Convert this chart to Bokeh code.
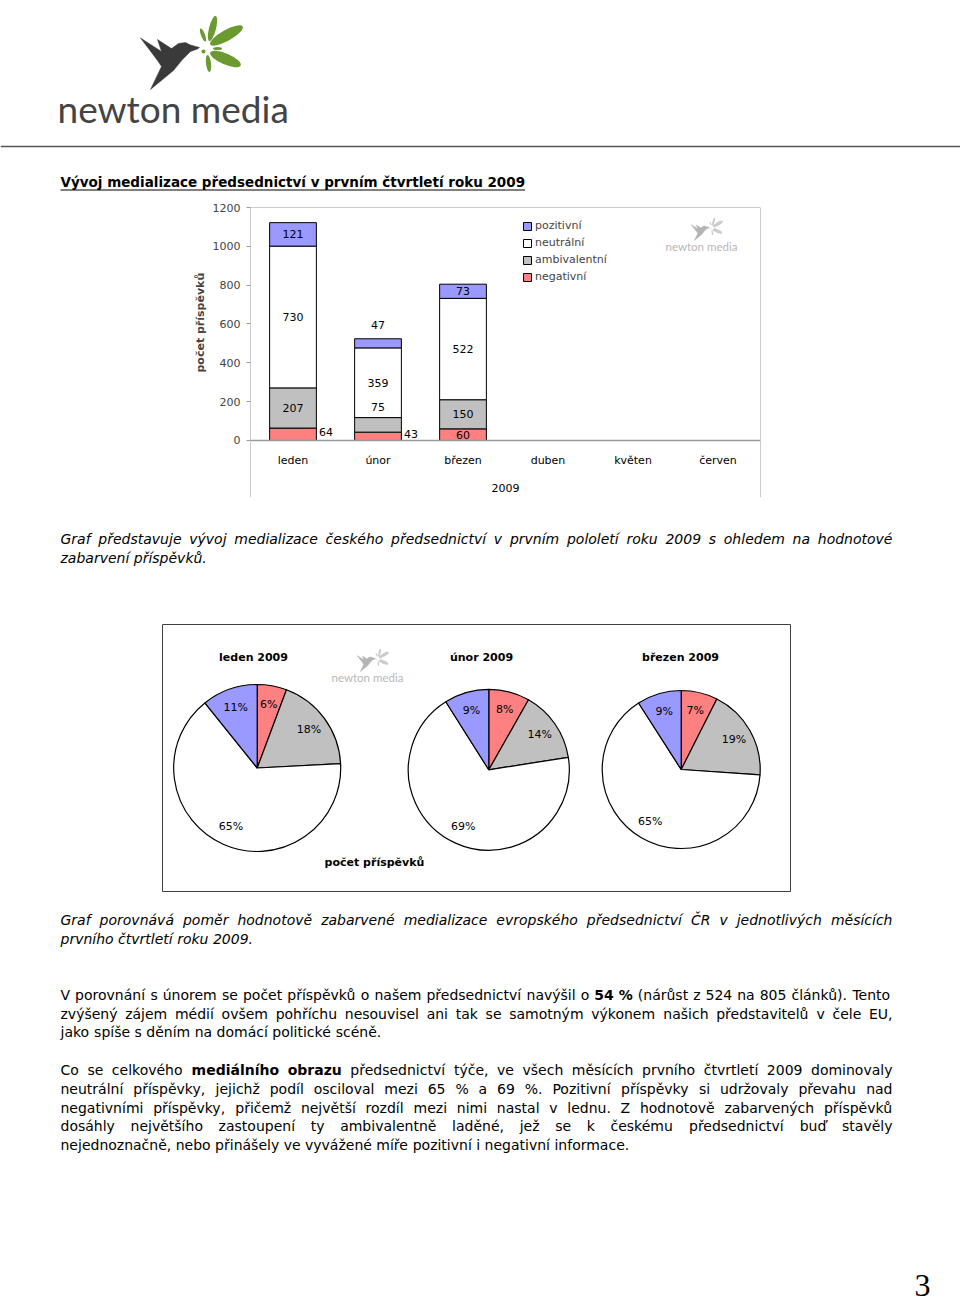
import math
import unicodedata
from bokeh.plotting import figure
from bokeh.models import Range1d, FactorRange, FixedTicker, Span, Legend, LegendItem, ColumnDataSource, Title
from bokeh.core.properties import value
from bokeh.embed import file_html
from bokeh.resources import INLINE

# ---------------- data ----------------
months = ["leden", "únor", "březen", "duben", "květen", "červen"]
data_months = ["leden", "únor", "březen"]
year_label = "2009"
negativni = [64, 43, 60]
ambivalentni = [207, 75, 150]
neutralni = [730, 359, 522]
pozitivni = [121, 47, 73]
series_names = ["negativní", "ambivalentní", "neutrální", "pozitivní"]
y_ticks = [0, 200, 400, 600, 800, 1000, 1200]
y_axis_title = "počet příspěvků"
pie_titles = ["leden 2009", "únor 2009", "březen 2009"]
pie_axis_title = "počet příspěvků"
chart_title = "Vývoj medializace předsednictví v prvním čtvrtletí roku 2009"
caption1 = ["Graf představuje vývoj medializace českého předsednictví v prvním pololetí roku 2009 s ohledem na hodnotové",
            "zabarvení příspěvků."]
caption2 = ["Graf porovnává poměr hodnotově zabarvené medializace evropského předsednictví ČR v jednotlivých měsících",
            "prvního čtvrtletí roku 2009."]
para1 = [
    [("V porovnání s únorem se počet příspěvků o našem předsednictví navýšil o", False), ("54 %", True),
     ("(nárůst z 524 na 805 článků). Tento", False)],
    [("zvýšený zájem médií ovšem pohříchu nesouvisel ani tak se samotným výkonem našich představitelů v čele EU,", False)],
    [("jako spíše s děním na domácí politické scéně.", False)],
]
para2 = [
    [("Co se celkového", False), ("mediálního obrazu", True),
     ("předsednictví týče, ve všech měsících prvního čtvrtletí 2009 dominovaly", False)],
    [("neutrální příspěvky, jejichž podíl osciloval mezi 65 % a 69 %. Pozitivní příspěvky si udržovaly převahu nad", False)],
    [("negativními příspěvky, přičemž největší rozdíl mezi nimi nastal v lednu. Z hodnotově zabarvených příspěvků", False)],
    [("dosáhly největšího zastoupení ty ambivalentně laděné, jež se k českému předsednictví buď stavěly", False)],
    [("nejednoznačně, nebo přinášely ve vyvážené míře pozitivní i negativní informace.", False)],
]
page_number = "3"
logo_text = "newton media"

# ---------------- styles ----------------
FONT = "DejaVu Sans"
COLORS = ["#ff8080", "#c0c0c0", "#ffffff", "#9999ff"]
GRAY = "#9a9a9a"
LEFT, TEXT_W = 60, 832

REG = {' ': .318, '%': .950, '(': .390, ')': .390, ',': .318, '.': .318, '-': .361,
       'A': .684, 'B': .686, 'C': .698, 'D': .770, 'E': .632, 'F': .575, 'G': .775, 'H': .752, 'I': .295,
       'J': .295, 'K': .656, 'L': .557, 'M': .863, 'N': .748, 'O': .787, 'P': .603, 'R': .695, 'S': .635,
       'T': .611, 'U': .732, 'V': .684, 'W': .989, 'Z': .685,
       'a': .613, 'b': .635, 'c': .550, 'd': .635, 'e': .615, 'f': .352, 'g': .635, 'h': .634, 'i': .278,
       'j': .278, 'k': .579, 'l': .278, 'm': .974, 'n': .634, 'o': .612, 'p': .635, 'q': .635, 'r': .411,
       's': .521, 't': .392, 'u': .634, 'v': .592, 'w': .818, 'x': .592, 'y': .592, 'z': .525}
BOLD = {' ': .348, '%': 1.002, '(': .457, ')': .457, ',': .380, '.': .380, 'V': .774,
        'a': .675, 'b': .716, 'c': .593, 'd': .716, 'e': .678, 'f': .435, 'g': .716, 'h': .712, 'i': .343,
        'j': .343, 'k': .665, 'l': .343, 'm': 1.042, 'n': .712, 'o': .687, 'p': .716, 'q': .716, 'r': .493,
        's': .595, 't': .478, 'u': .712, 'v': .652, 'w': .924, 'x': .645, 'y': .652, 'z': .582}
for d in "0123456789":
    REG[d] = .636
    BOLD[d] = .696


def text_w(s, bold=False):
    tab = BOLD if bold else REG
    w = 0.0
    for ch in s:
        base = unicodedata.normalize("NFD", ch)[0]
        w += tab.get(base, 0.65 if bold else 0.6)
    return w


def make_fig(height, top, bottom):
    p = figure(width=960, height=height, x_range=Range1d(0, 960), y_range=Range1d(-bottom, -top),
               x_axis_location=None, y_axis_location=None, output_backend="svg", toolbar_location=None,
               title=None, min_border=0, outline_line_color=None,
               background_fill_color="white", border_fill_color="white")
    p.grid.visible = False
    return p


def put_text(p, x, y, s, size, style="normal", font=FONT, align="left", color="black", baseline="middle"):
    p.text(x=[x], y=[y], text=[s], text_font=value(font), text_font_size=size, text_font_style=style,
           text_align=align, text_baseline=baseline, text_color=color)


def put_line(p, y, segments, justify, size=14, italic=False):
    """Place one line of body text; justified lines are spread to the full text width word by word."""
    words = []
    for seg, bold in segments:
        for w in seg.split(" "):
            if w:
                words.append((w, bold))
    widths = [text_w(w, b) * size for w, b in words]
    if justify and len(words) > 1:
        gap = (TEXT_W - sum(widths)) / (len(words) - 1)
    else:
        gap = REG[' '] * size
    x = LEFT
    for (w, b), ww in zip(words, widths):
        style = "bold" if b else ("italic" if italic else "normal")
        put_text(p, x, y, w, f"{size}px", style=style)
        x += ww + gap


def put_paragraph(p, ys, lines, italic=False):
    for n, (y, segs) in enumerate(zip(ys, lines)):
        put_line(p, -y, segs, justify=(n < len(lines) - 1), italic=italic)


BIRD = [(199, 49), (190, 46.5), (185, 44), (178, 45), (171, 50), (157, 41), (161, 53), (140, 39.5),
        (157, 62), (161, 68), (150, 91), (173, 72), (182, 61), (190, 53), (197, 50.5)]
DROPS = [(226, 37, 37, 11, 29), (225, 60.5, 33, 11, -23), (212, 30, 26, 7, 76), (208, 65, 17, 5, -83),
         (202.5, 36.5, 14, 4, 111), (217, 50, 9, 3, 0), (203, 53, 4, 4, 0)]


def draw_logo(p, ox, oy, s, tf, bird_col, drop_col, text_col):
    bx, by = [], []
    for (x, y) in BIRD:
        X, Y = tf(ox + (x - 57) * s, oy + (y - 110) * s)
        bx.append(X)
        by.append(Y)
    p.patch(bx, by, fill_color=bird_col, line_color=bird_col, line_width=0.5)
    ex, ey, ew, eh, ea = [], [], [], [], []
    for (x, y, w, h, a) in DROPS:
        X, Y = tf(ox + (x - 57) * s, oy + (y - 110) * s)
        ex.append(X)
        ey.append(Y)
        ew.append(w * s)
        eh.append(h * s)
        ea.append(math.radians(a))
    p.ellipse(x=ex, y=ey, width=ew, height=eh, angle=ea, width_units="screen", height_units="screen",
              fill_color=drop_col, line_color=None)
    tx, ty = tf(ox, oy)
    p.text(x=[tx], y=[ty], text=[logo_text], text_font=value("Lato"), text_font_size=f"{37 * s:.1f}px",
           text_color=text_col, text_baseline="middle", text_align="left")


# ---------------- header (page y 0..200) ----------------
fa = make_fig(200, 0, 200)
draw_logo(fa, 57, 108, 1.0, lambda x, y: (x, -y), "#3a3a3a", "#6b9a30", "#444444")
fa.segment(x0=[0], y0=[-146], x1=[960], y1=[-146], line_color="#555555", line_width=1.5)
title_size = 13.5
put_text(fa, LEFT, -181, chart_title, f"{title_size}px", style="bold")
fa.segment(x0=[LEFT], y0=[-189.5], x1=[LEFT + text_w(chart_title, True) * title_size], y1=[-189.5],
           line_color="black", line_width=1)

# ---------------- bar chart (page y 200..500) ----------------
Y0_PX, PX_PER_UNIT = 440, 233 / 1200
pb = figure(width=960, height=300, x_range=FactorRange(factors=months), y_range=Range1d(-293.6, 1200),
            x_axis_location=None, y_axis_location="left", output_backend="svg", toolbar_location=None,
            title=None, min_border_left=250, min_border_right=200, min_border_top=7, min_border_bottom=3,
            outline_line_color=None, background_fill_color="white", border_fill_color="white")
pb.grid.visible = False

src = ColumnDataSource(dict(month=data_months, neg=negativni, amb=ambivalentni, neu=neutralni, pos=pozitivni))
rs = pb.vbar_stack(["neg", "amb", "neu", "pos"], x="month", width=0.55, source=src,
                   fill_color=COLORS, line_color="black", line_width=1)

for loc, dim, lw in [(0, "height", 1), (6, "height", 1), (1200, "width", 1), (0, "width", 1.5)]:
    pb.add_layout(Span(location=loc, dimension=dim, line_color=GRAY, line_width=lw))

ax = pb.yaxis[0]
ax.ticker = FixedTicker(ticks=y_ticks)
ax.bounds = (0, 1200)
ax.axis_line_color = None
ax.major_tick_line_color = GRAY
ax.major_tick_out = 4
ax.major_tick_in = 0
ax.minor_tick_line_color = None
ax.major_label_text_font = FONT
ax.major_label_text_font_size = "11px"
ax.major_label_standoff = 6
pb.add_layout(Title(text=y_axis_title, align="left", offset=125, standoff=6, text_font=FONT,
                    text_font_size="11px", text_font_style="bold"), "left")

# value labels
stacks = [negativni, ambivalentni, neutralni, pozitivni]
moved = {("leden", 0): (33, -2), ("únor", 0): (33, -2), ("únor", 1): (0, -18), ("únor", 3): (0, -18)}
lx, ly, lt, lxo, lyo = [], [], [], [], []
for i, m in enumerate(data_months):
    base = 0
    for j, s in enumerate(stacks):
        v = s[i]
        lx.append(m)
        ly.append(base + v / 2)
        lt.append(str(v))
        dx, dy = moved.get((m, j), (0, 0))
        lxo.append(dx)
        lyo.append(dy)
        base += v
pb.text(x="x", y="y", text="t", x_offset="xo", y_offset="yo",
        source=ColumnDataSource(dict(x=lx, y=ly, t=lt, xo=lxo, yo=lyo)),
        text_align="center", text_baseline="middle", text_font=value(FONT), text_font_size="11px",
        text_color="black")

# category labels and year
pb.text(x=months, y=[0] * len(months), text=months, y_offset=20, text_align="center", text_baseline="middle",
        text_font=value(FONT), text_font_size="11px", text_color="black")
pb.text(x=[len(months) / 2], y=[0], text=[year_label], y_offset=48, text_align="center",
        text_baseline="middle", text_font=value(FONT), text_font_size="11px", text_color="black")

legend = Legend(items=[LegendItem(label=series_names[k], renderers=[rs[k]]) for k in [3, 2, 1, 0]],
                location=(272, 212), orientation="vertical", border_line_color=None, background_fill_alpha=0,
                padding=3, spacing=0, margin=0, glyph_width=10, glyph_height=10, label_height=17,
                label_standoff=3, label_text_font=FONT, label_text_font_size="11px")
pb.add_layout(legend)

draw_logo(pb, 665, 246, 0.31, lambda x, y: ((x - 250) / 85, (Y0_PX - y) / PX_PER_UNIT),
          "#b4b4b4", "#cccccc", "#b8b8b8")

# ---------------- caption 1 (page y 500..620) ----------------
fc = make_fig(120, 500, 620)
put_paragraph(fc, [538, 557], [[(t, False)] for t in caption1], italic=True)

# ---------------- pies (page y 620..895) ----------------
fd = make_fig(275, 620, 895)
fd.quad(left=[162], right=[790], top=[-624], bottom=[-891], fill_color=None, line_color="#404040", line_width=1)
pie_geom = [(256.7, 767.5, 83.5), (488.3, 769.3, 80.5), (680.7, 769.0, 79.0)]
title_pos = [(253, 657), (481, 657), (680, 657)]
for k, (cx, cy, r) in enumerate(pie_geom):
    vals = [negativni[k], ambivalentni[k], neutralni[k], pozitivni[k]]
    tot = sum(vals)
    cum = 0
    starts, ends, px, py, pt = [], [], [], [], []
    for v in vals:
        a0 = math.pi / 2 - 2 * math.pi * cum / tot
        cum += v
        a1 = math.pi / 2 - 2 * math.pi * cum / tot
        starts.append(a0)
        ends.append(a1)
        am = (a0 + a1) / 2
        px.append(cx + 0.77 * r * math.cos(am))
        py.append(-cy + 0.77 * r * math.sin(am))
        pt.append(f"{round(100 * v / tot)}%")
    fd.wedge(x=cx, y=-cy, radius=r, start_angle=starts, end_angle=ends, direction="clock",
             fill_color=COLORS, line_color="black", line_width=1.2)
    fd.text(x=px, y=py, text=pt, text_align="center", text_baseline="middle", text_font=value(FONT),
            text_font_size="11px", text_color="black")
    tx, ty = title_pos[k]
    put_text(fd, tx, -ty, pie_titles[k], "11px", style="bold", align="center")
put_text(fd, 374, -862, pie_axis_title, "11px", style="bold", align="center")
draw_logo(fd, 331, 677, 0.31, lambda x, y: (x, -y), "#b4b4b4", "#cccccc", "#b8b8b8")

# ---------------- text (page y 895..1307) ----------------
fe = make_fig(412, 895, 1307)
put_paragraph(fe, [919, 938], [[(t, False)] for t in caption2], italic=True)
put_paragraph(fe, [994, 1013, 1031], para1)
put_paragraph(fe, [1069, 1088, 1107, 1125, 1144], para2)
put_text(fe, 922, -1285, page_number, "32px", font="Liberation Serif", align="center")

open("out.html", "w").write(file_html([fa, pb, fc, fd, fe], INLINE))
